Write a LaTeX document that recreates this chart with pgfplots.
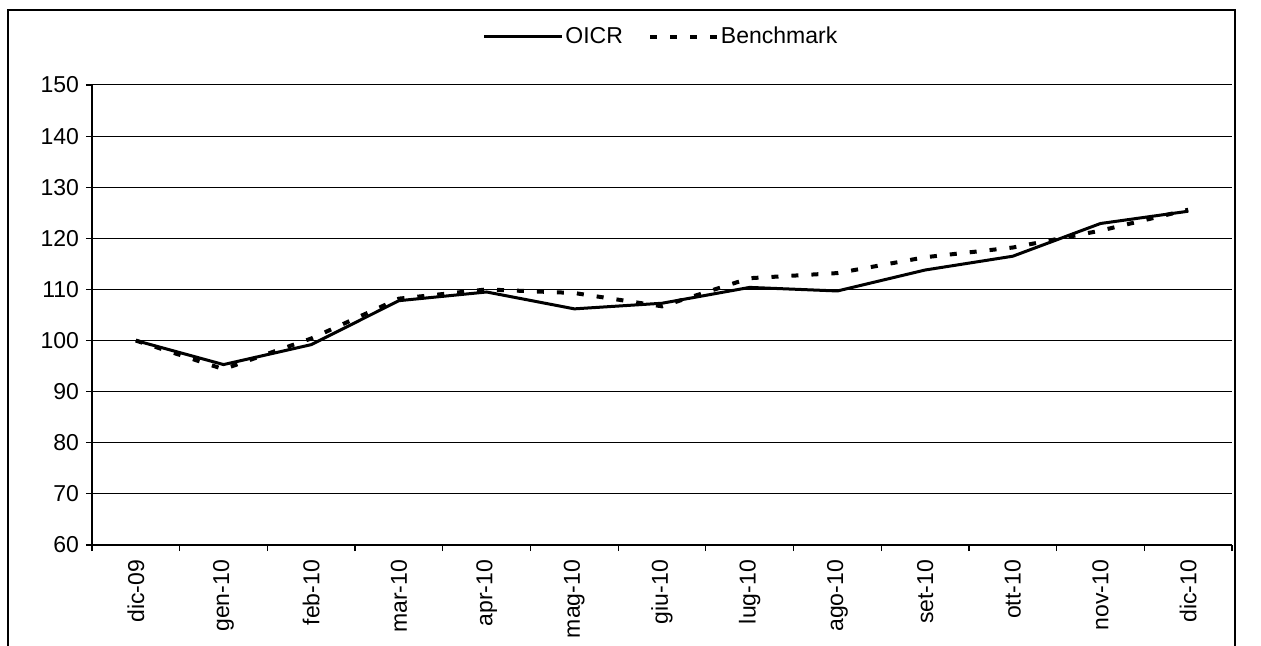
\documentclass[border=0pt]{standalone}
\usepackage{pgfplots}
\pgfplotsset{compat=1.18}
\usepackage{fontspec}
\setmainfont{Liberation Sans}

\begin{document}
\begin{tikzpicture}
\useasboundingbox (-46pt,-50.5pt) rectangle (584.5pt,272.5pt);
% chart frame (bottom edge falls outside the picture)
\draw[line width=0.8pt] (-42pt,-50.5pt) -- (-42pt,267.5pt) -- (571.5pt,267.5pt) -- (571.5pt,-50.5pt);
\begin{axis}[
    at={(0pt,0pt)}, anchor=south west,
    width=570pt, height=230pt, scale only axis,
    xmin=-0.5, xmax=12.5,
    ymin=60, ymax=150,
    ytick={60,70,...,150},
    xtick={0,...,12},
    xticklabels={dic-09,gen-10,feb-10,mar-10,apr-10,mag-10,giu-10,lug-10,ago-10,set-10,ott-10,nov-10,dic-10},
    minor xtick={-0.5,0.5,...,12.5},
    axis lines=left,
    axis line style={-,line width=0.6pt},
    tick align=outside,
    major tick length=3pt, minor tick length=3pt,
    major x tick style={draw=none},
    minor x tick style={black,line width=0.6pt},
    major y tick style={black,line width=0.6pt},
    ymajorgrids,
    major grid style={black,line width=0.5pt},
    tick label style={font=\fontsize{11.5}{13}\selectfont},
    /pgf/number format/assume math mode=true,
    xticklabel style={rotate=90,anchor=east,xshift=-1pt},
    legend columns=2,
    legend style={at={(0.499,1.0)},anchor=center,yshift=24pt,draw=none,fill=none,
        font=\fontsize{11.5}{13}\selectfont,
        nodes={inner xsep=1pt},
        /tikz/every even column/.append style={column sep=6pt}},
    % drawn right to left so the dashed sample ends on a dash next to its text
    legend image code/.code={\draw[#1] (39pt,0pt) -- (0pt,0pt);},
    clip=false,
]
\addplot[black,line width=1.5pt] coordinates {
(0,100) (1,95.3) (2,99.2) (3,107.8) (4,109.5) (5,106.2) (6,107.3)
(7,110.4) (8,109.7) (9,113.8) (10,116.5) (11,122.9) (12,125.3)
};
\addlegendentry{OICR}
\addplot[black,line width=2pt,dash pattern=on 3.5pt off 6.5pt] coordinates {
(0,100) (1,94.4) (2,100.4) (3,108.2) (4,110) (5,109.3) (6,106.7)
(7,112.2) (8,113.2) (9,116.3) (10,118.2) (11,121.5) (12,125.6)
};
\addlegendentry{Benchmark}
\end{axis}
\end{tikzpicture}
\end{document}
